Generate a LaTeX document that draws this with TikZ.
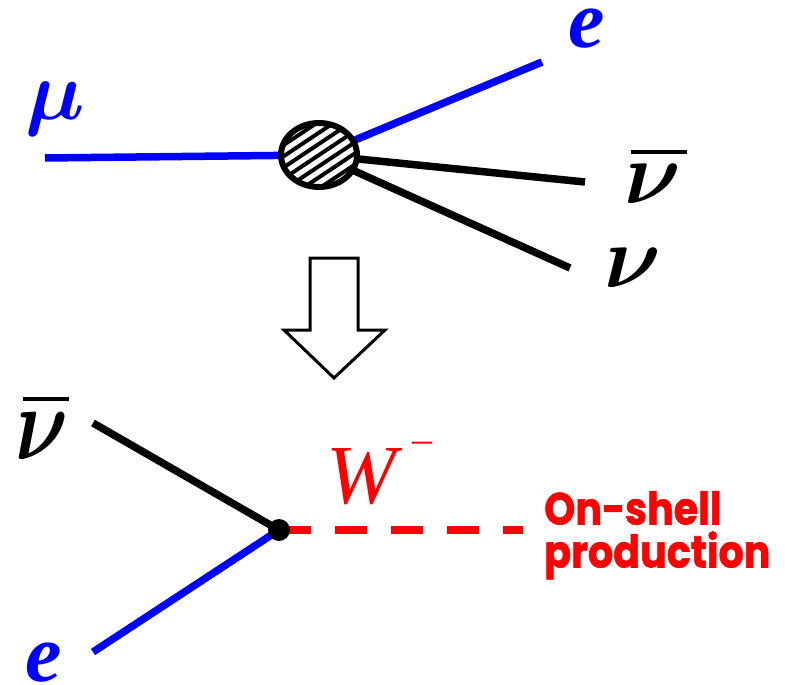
\documentclass[tikz,border=0pt]{standalone}
\usepackage{fontspec}
\usepackage{bm}
\usepackage{graphicx}
\setmainfont{Liberation Serif}
\newfontfamily\heavy{Poppins}[FakeStretch=0.88,FakeBold=1.2]
\usetikzlibrary{shapes.geometric,backgrounds}
\newcommand{\bignu}[2]{\scalebox{#1}[#2]{$\bm{\nu}$}}
\newcommand{\barnu}[6]{\makebox[0pt][l]{\hspace{#1}\rule[#2]{#3}{#4}}\bignu{#5}{#6}}
\begin{document}
\begin{tikzpicture}[x=1pt,y=-1pt,
  lep/.style={line width=7.5pt, blue},
  neu/.style={line width=7.5pt, black},
  lbl/.style={inner sep=0pt, font=\fontsize{82}{82}\selectfont\bfseries\itshape},
  mlbl/.style={inner sep=0pt},
  blobstyle/.style={ellipse, draw, line width=4pt, minimum width=78pt, minimum height=66pt, inner sep=0pt, fill=white},
  vertex/.style={circle, fill=black, inner sep=0pt, minimum size=22pt},
  wline/.style={red, line width=8pt, dash pattern=on 32pt off 24pt},
  bigarrow/.style={draw=black, line width=3pt, fill=white, line join=miter}
]
\useasboundingbox (0,0) rectangle (785,685);

% ---------- top: muon decay ----------
\node[blobstyle] (blob) at (319,155) {};
\begin{scope}
  \clip (319,155) ellipse [x radius=37, y radius=31];
  \foreach \k in {-5,...,5}
    \draw[line width=4pt] ({319+\k*5.2-45},{155+\k*7.7+30}) -- ({319+\k*5.2+45},{155+\k*7.7-30});
\end{scope}
\draw[line width=4pt] (319,155) ellipse [x radius=37, y radius=31];

\coordinate (muend) at (45,158);
\coordinate (eend) at (542,62);
\coordinate (nbend) at (585,182);
\coordinate (nend) at (570,268);
\begin{scope}[on background layer]
  \draw[lep] (muend) -- (blob.center);
  \draw[lep] (blob.center) -- (eend);
  \draw[neu] (blob.center) -- (nbend);
  \draw[neu] (blob.center) -- (nend);
\end{scope}

\node[mlbl, blue] (mu) at (55,109) {\scalebox{8.4}{$\bm{\mu}$}};
\node[lbl, blue] (etop) at (587,29) {e};
\node[mlbl, anchor=base] (nubartop) at (653,203) {\barnu{6pt}{49pt}{56pt}{4pt}{8.8}{8.8}};
\node[mlbl, anchor=base] (nutop) at (633,287) {\bignu{8.8}{8.8}};

% ---------- arrow ----------
\draw[bigarrow] (310,258) -- (358,258) -- (358,330) -- (385,330) -- (334,378)
  -- (284,330) -- (310,330) -- cycle;

% ---------- bottom: W production ----------
\node[vertex] (v) at (279,530) {};
\coordinate (nbstart) at (93,423);
\coordinate (estart) at (93,652);
\coordinate (wend) at (523,530);
\begin{scope}[on background layer]
  \draw[neu] (nbstart) -- (v.center);
  \draw[lep] (estart) -- (v.center);
  \draw[wline] (v.center) -- (wend);
\end{scope}

\node[mlbl, anchor=base] (nubarbot) at (42,459) {\barnu{7.5pt}{58pt}{46pt}{4pt}{8.2}{10.5}};
\node[lbl, blue, anchor=base] (ebot) at (44,681) {e};
\node[inner sep=0pt, anchor=base west, red, font=\fontsize{84}{84}\selectfont\itshape] (W) at (326,503)
  {W\hspace{16pt}\raisebox{51pt}{\fontsize{40}{40}\selectfont –}};
\node[inner sep=0pt, anchor=north west, red, align=left,
  font=\fontsize{45}{43}\selectfont\heavy\bfseries] (onshell) at (544,491)
  {On-shell\\production};
\end{tikzpicture}
\end{document}
